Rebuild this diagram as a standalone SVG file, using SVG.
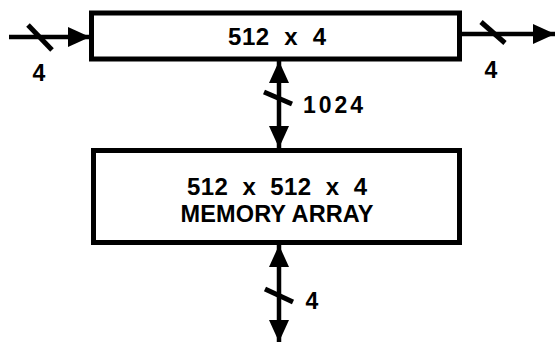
<svg xmlns="http://www.w3.org/2000/svg" width="556" height="342" viewBox="0 0 556 342">
<style>
.box{fill:#fff;stroke:#000;stroke-width:5}
.wire{stroke:#000;stroke-width:4.5;fill:none}
.slash{stroke:#000;stroke-width:5;stroke-linecap:butt}
.t{font-family:"Liberation Sans",Arial,sans-serif;font-weight:bold;fill:#000;text-anchor:middle}
</style>
<defs>
<marker id="ah" viewBox="0 0 22 20" refX="22" refY="10" markerWidth="22" markerHeight="20" markerUnits="userSpaceOnUse" orient="auto-start-reverse">
<path d="M0,0 L22,10 L0,20 Z" fill="#000"/>
</marker>
</defs>
<rect width="556" height="342" fill="#fff"/>
<g id="connectors">
<g id="in-bus">
<line class="wire" x1="9" y1="37" x2="90" y2="37" marker-end="url(#ah)"/>
<line class="slash" x1="28" y1="25" x2="52" y2="50"/>
<text class="t" x="39" y="81" font-size="23">4</text>
</g>
<g id="out-bus">
<line class="wire" x1="462" y1="34" x2="555" y2="34" marker-end="url(#ah)"/>
<line class="slash" x1="481" y1="22" x2="505" y2="43"/>
<text class="t" x="491" y="78" font-size="23">4</text>
</g>
<g id="mid-bus">
<line class="wire" x1="279" y1="61" x2="279" y2="148" marker-start="url(#ah)" marker-end="url(#ah)"/>
<line class="slash" x1="264" y1="92" x2="292" y2="104"/>
<text class="t" x="333" y="113" font-size="23" textLength="60" lengthAdjust="spacing">1024</text>
</g>
<g id="bottom-bus">
<line class="wire" x1="279" y1="245" x2="279" y2="342" marker-start="url(#ah)" marker-end="url(#ah)"/>
<line class="slash" x1="265" y1="289" x2="293" y2="302"/>
<text class="t" x="312" y="309" font-size="23">4</text>
</g>
</g>
<g id="register">
<rect class="box" x="91.5" y="13" width="368" height="46"/>
<text class="t" x="277" y="45" font-size="24" textLength="98" lengthAdjust="spacing" xml:space="preserve">512  x  4</text>
</g>
<g id="memory-array">
<rect class="box" x="93.5" y="150.5" width="366" height="92"/>
<text class="t" x="277" y="195" font-size="24" textLength="180" lengthAdjust="spacing" xml:space="preserve">512  x  512  x  4</text>
<text class="t" x="277" y="222" font-size="23.5" textLength="193" lengthAdjust="spacing">MEMORY ARRAY</text>
</g>
</svg>
